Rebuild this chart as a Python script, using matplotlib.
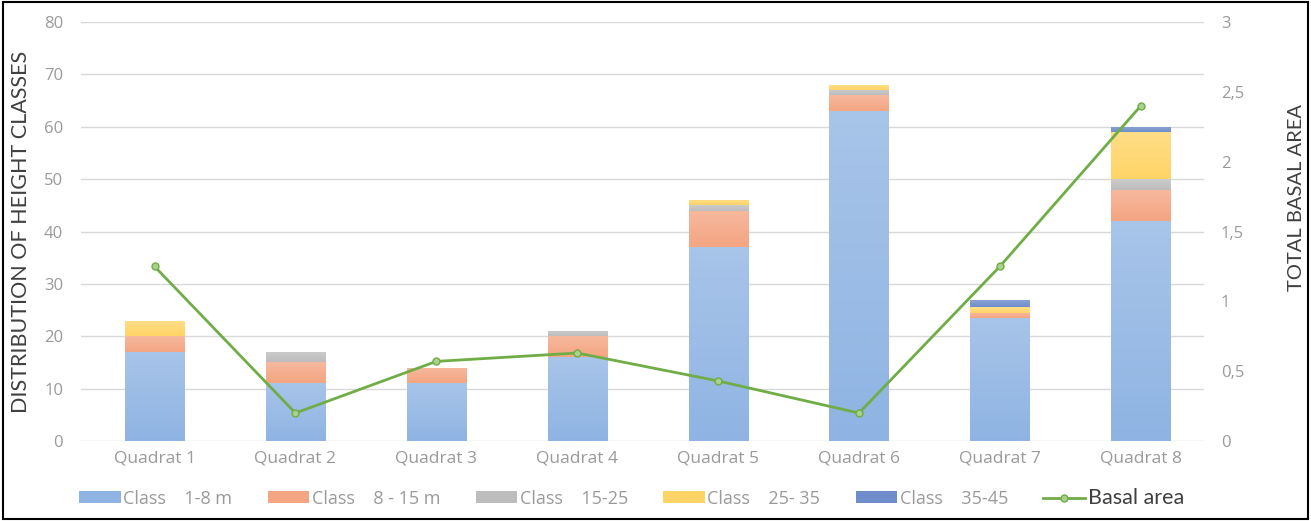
import numpy as np
import matplotlib.pyplot as plt
from matplotlib.patches import Rectangle
from matplotlib.colors import to_rgb

quadrats = ['Quadrat 1', 'Quadrat 2', 'Quadrat 3', 'Quadrat 4',
            'Quadrat 5', 'Quadrat 6', 'Quadrat 7', 'Quadrat 8']
class_1_8 = [17, 11, 11, 16, 37, 63, 23.5, 42]
class_8_15 = [3, 4, 3, 4, 7, 3, 1, 6]
class_15_25 = [0, 2, 0, 1, 1, 1, 0, 2]
class_25_35 = [3, 0, 0, 0, 1, 1, 1, 9]
class_35_45 = [0, 0, 0, 0, 0, 0, 1.5, 1]
basal_area = [1.25, 0.2, 0.57, 0.63, 0.43, 0.2, 1.25, 2.4]

labels = ['Class    1-8 m', 'Class    8 - 15 m', 'Class    15-25', 'Class    25- 35', 'Class    35-45']
colors = ['#8FB4E3', '#F4A582', '#BDBDBD', '#FFD467', '#6F8DCB']
series = [class_1_8, class_8_15, class_15_25, class_25_35, class_35_45]

tick_col = '#9A9A9A'
label_font = ['Lato', 'DejaVu Sans']
tick_font = ['Open Sans', 'DejaVu Sans']

fig = plt.figure(figsize=(13.11, 5.21), dpi=100)
ax = fig.add_axes([0.062, 0.1536, 0.8565, 0.804])
ax2 = ax.twinx()

x = np.arange(len(quadrats))
bottom = np.zeros(len(quadrats))
for vals, lab, c in zip(series, labels, colors):
    bars = ax.bar(x, vals, 0.42, bottom=bottom, color=c, label=lab, zorder=2)
    # light-to-dark vertical gradient inside each segment
    base = np.array(to_rgb(c))
    light = base + (1 - base) * 0.22
    grad = np.linspace(0, 1, 64)[:, None, None]
    img = light * (1 - grad) + base * grad
    for b in bars:
        if b.get_height() <= 0:
            continue
        x0, y0 = b.get_x(), b.get_y()
        im = ax.imshow(img, extent=(x0, x0 + b.get_width(), y0, y0 + b.get_height()),
                       origin='upper', aspect='auto', zorder=2.1, interpolation='bilinear')
        im.set_clip_path(b)
    bottom += np.array(vals)

ax2.plot(x, basal_area, color='#70AD47', lw=2, marker='o', ms=5,
         mfc='#A9D18E', mec='#70AD47', mew=1, label='Basal area', zorder=3)

ax.set_ylim(0, 80)
ax.set_yticks(range(0, 81, 10))
ax2.set_ylim(0, 3)
ax2.set_yticks([0, 0.5, 1, 1.5, 2, 2.5, 3])
ax2.set_yticklabels(['0', '0,5', '1', '1,5', '2', '2,5', '3'])
ax.set_xlim(-0.52, 7.45)
ax.set_xticks(x)
ax.set_xticklabels(quadrats)

ax.grid(axis='y', color='#D9D9D9', lw=1, zorder=0)
ax.set_axisbelow(True)
for a in (ax, ax2):
    for s in a.spines.values():
        s.set_visible(False)
    a.tick_params(length=0, colors=tick_col, labelsize=12)
    for t in a.get_xticklabels() + a.get_yticklabels():
        t.set_fontfamily(tick_font)
ax.tick_params(axis='x', pad=7, labelsize=12.5)
ax.tick_params(axis='y', pad=13)
ax2.tick_params(axis='y', pad=12)

ax.set_ylabel('DISTRIBUTION OF HEIGHT CLASSES', fontsize=15.5, color='#404040',
              family=label_font)
ax.yaxis.set_label_coords(-0.045, 0.5)
ax2.set_ylabel('TOTAL BASAL AREA', fontsize=14.5, color='#404040', family=label_font)
ax2.yaxis.set_label_coords(1.0746, 0.582)

h1, l1 = ax.get_legend_handles_labels()
h2, l2 = ax2.get_legend_handles_labels()
leg = fig.legend(h1 + h2, l1 + l2, loc='center left', bbox_to_anchor=(0.048, 0.045), ncol=6,
                 frameon=False, prop={'family': tick_font, 'size': 13},
                 handlelength=2.3, handleheight=0.6,
                 handletextpad=0.15, columnspacing=1.95, labelcolor=tick_col)
last = leg.get_texts()[-1]
last.set_color('#404040')
last.set_fontfamily(label_font)
last.set_fontsize(15.5)

fig.patches.append(Rectangle((0.002, 0.003), 0.996, 0.994, transform=fig.transFigure,
                             fill=False, edgecolor='black', lw=1.5))
fig.savefig('out.png', dpi=100)
